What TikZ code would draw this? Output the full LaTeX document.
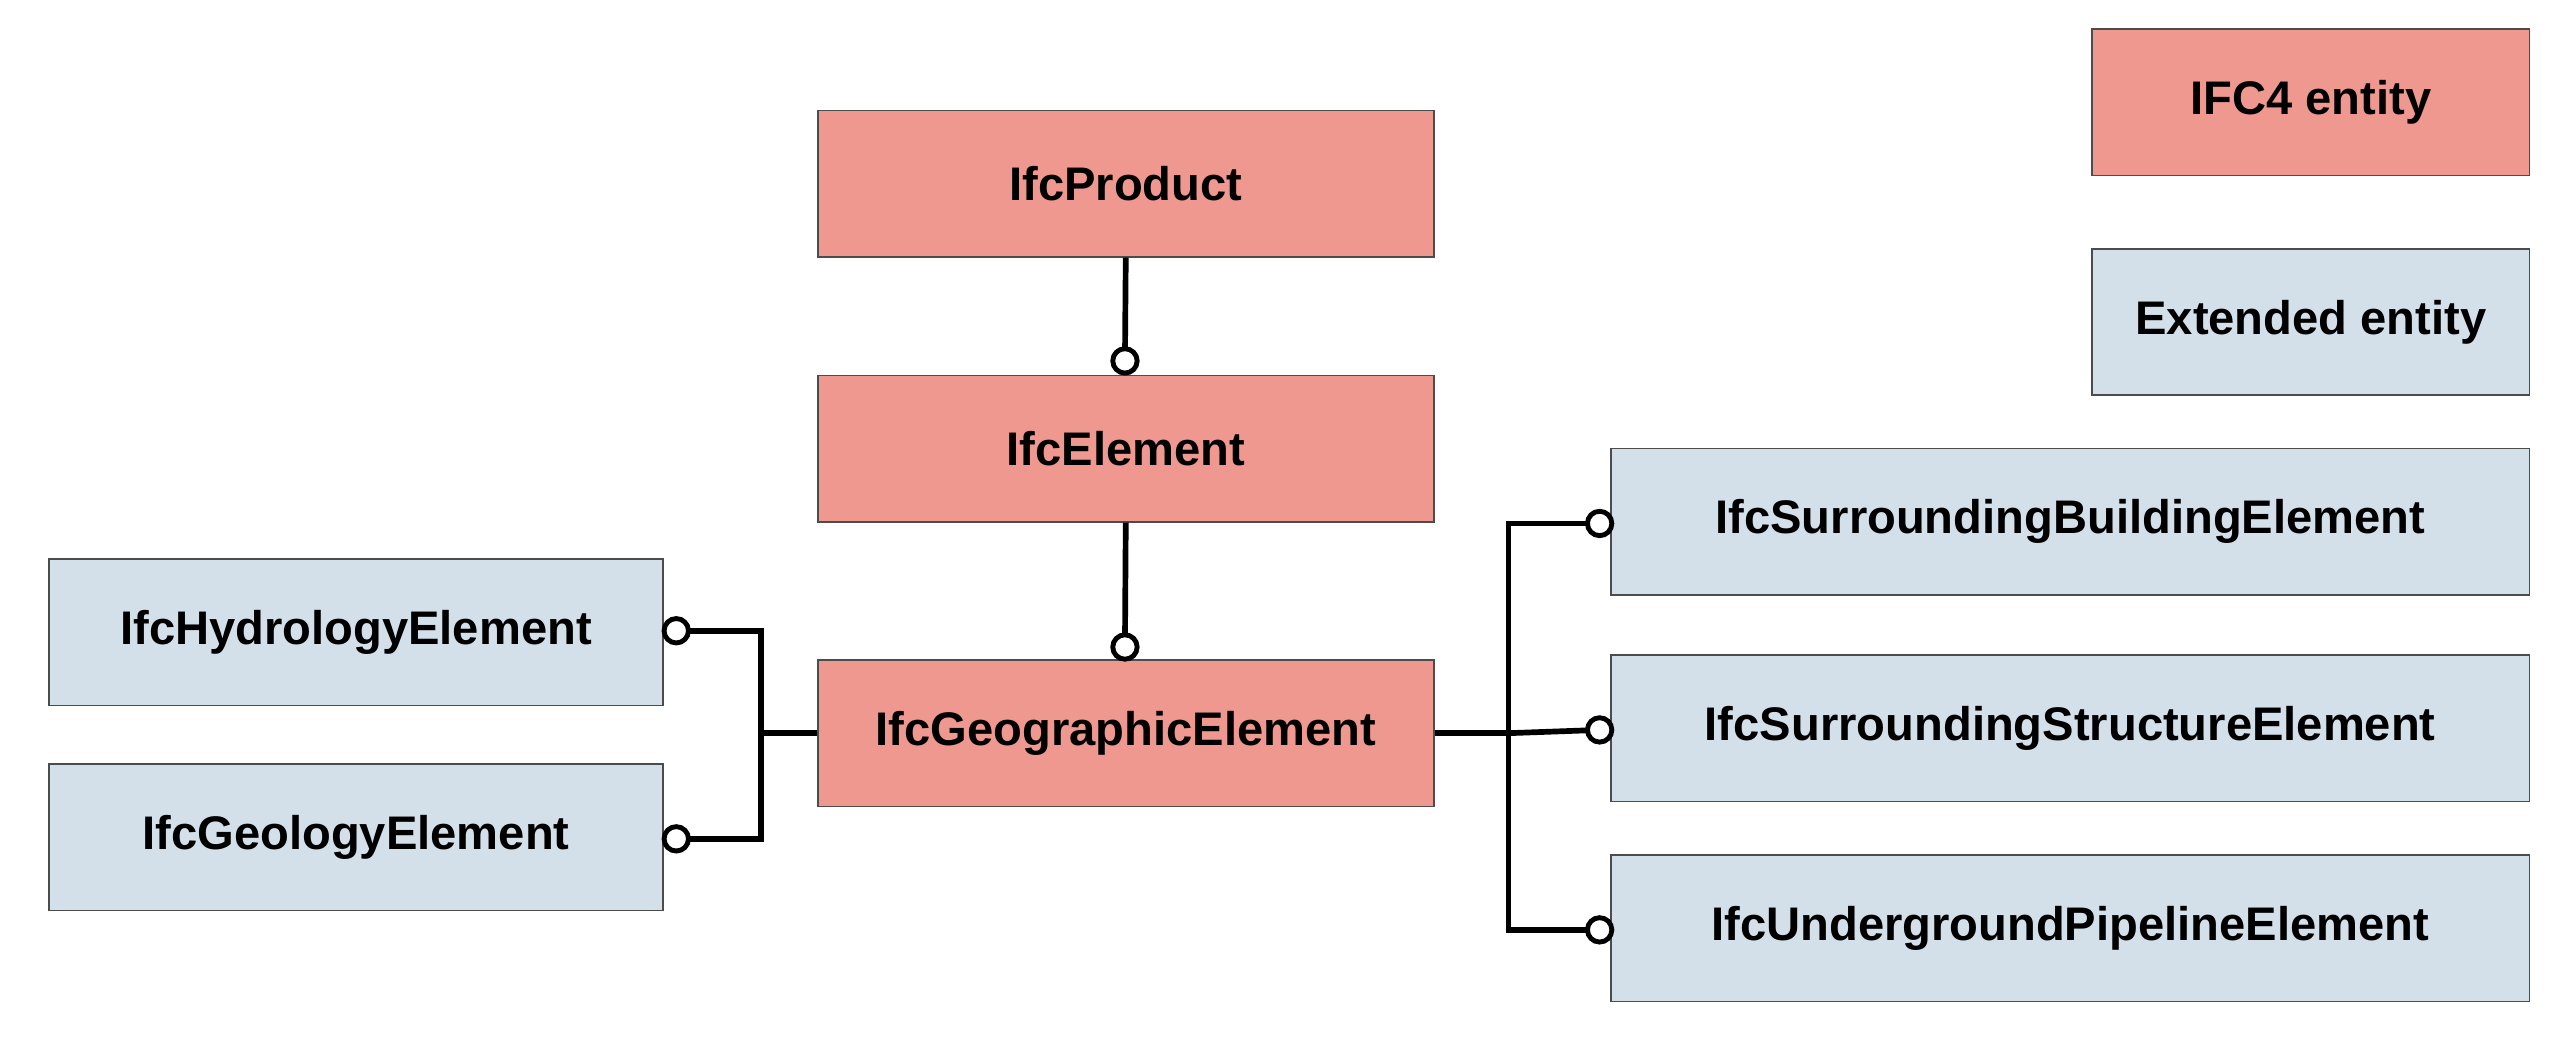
\documentclass[tikz,border=0pt]{standalone}
\usepackage{fontspec}
\setmainfont{Liberation Sans}
\begin{document}
\begin{tikzpicture}[x=1pt,y=-1pt,
  box/.style={draw=black!70,line width=1pt,minimum height=90pt,inner sep=0pt,font=\bfseries\fontsize{29}{34}\selectfont},
  ifc/.style={box,fill={rgb,255:red,239;green,152;blue,144}},
  ext/.style={box,fill={rgb,255:red,211;green,224;blue,234}},
  ln/.style={line width=3.5pt},
  circ/.style={circle,draw,fill=white,line width=3pt,minimum size=15pt,inner sep=0pt}]
\useasboundingbox (0,0) rectangle (1568,650);
\node[ifc,minimum width=379pt] (prod) at (692.5,113) {IfcProduct};
\node[ifc,minimum width=379pt] (elem) at (692.5,276) {IfcElement};
\node[ifc,minimum width=379pt] (geo) at (692.5,451) {IfcGeographicElement};
\node[ext,minimum width=378pt] (hyd) at (219,389) {IfcHydrologyElement};
\node[ext,minimum width=378pt] (gel) at (219,515) {IfcGeologyElement};
\node[ext,minimum width=565pt] (sb) at (1273.5,321) {IfcSurroundingBuildingElement};
\node[ext,minimum width=565pt] (ss) at (1273.5,448) {IfcSurroundingStructureElement};
\node[ext,minimum width=565pt] (up) at (1273.5,571) {IfcUndergroundPipelineElement};
\node[ifc,minimum width=269pt] (l1) at (1421.5,63) {IFC4 entity};
\node[ext,minimum width=269pt] (l2) at (1421.5,198) {Extended entity};
% top connectors
\coordinate (c1) at (692,222);
\coordinate (c2) at (692,398);
\draw[ln] (prod.south) -- (c1);
\draw[ln] (elem.south) -- (c2);
\node[circ] at (c1) {};
\node[circ] at (c2) {};
% left
\coordinate (lh) at (416,388);
\coordinate (lg) at (416,516);
\coordinate (lj) at (468,451);
\draw[ln] (lh) -| (lj) |- (lg);
\draw[ln] (lj) -- (geo.west);
\node[circ] at (lh) {};
\node[circ] at (lg) {};
% right
\coordinate (rj) at (928,451);
\coordinate (rb) at (984,322);
\coordinate (rs) at (984,449);
\coordinate (ru) at (984,572);
\draw[ln] (geo.east) -- (rj);
\draw[ln] (rb) -| (928,451) |- (ru);
\draw[ln] (rj) -- (rs);
\node[circ] at (rb) {};
\node[circ] at (rs) {};
\node[circ] at (ru) {};
\end{tikzpicture}
\end{document}
